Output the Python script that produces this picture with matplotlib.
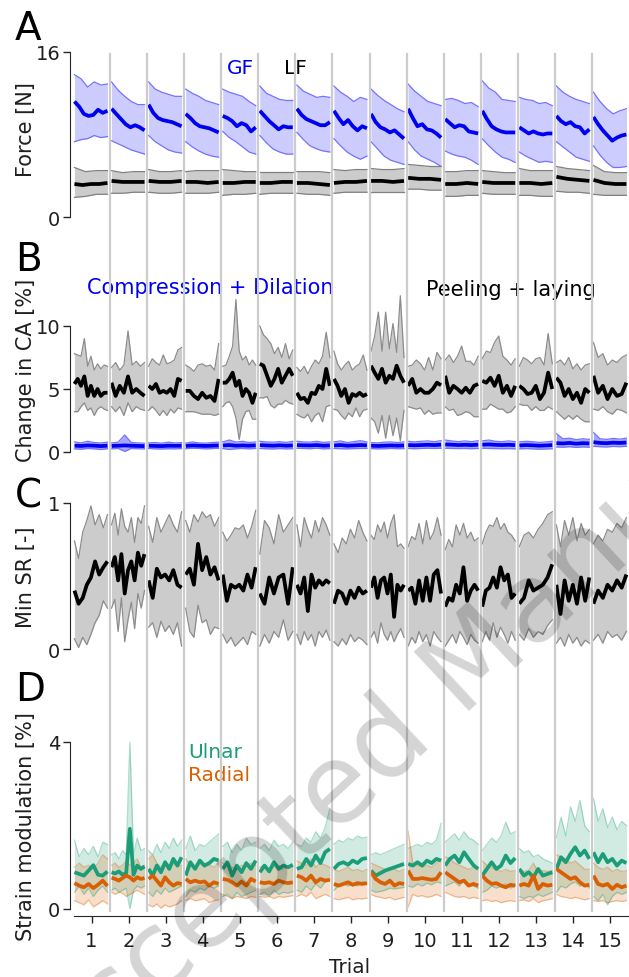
import numpy as np
import matplotlib
matplotlib.use("Agg")
import matplotlib.pyplot as plt
import matplotlib.transforms as mtransforms

# ---------------- data ----------------
trials = list(range(1, 16))
trial_labels = [str(t) for t in trials]

# Panel A: grip force (GF) and load force (LF) [N]
gf_mean = [
    [11.2, 10.7, 10.0, 9.8, 9.9, 10.4, 10.1, 10.3],
    [10.5, 10.0, 9.5, 9.0, 8.7, 8.9, 8.7, 8.4],
    [10.9, 10.1, 9.6, 9.4, 9.3, 9.2, 9.0, 8.8],
    [10.0, 9.6, 9.1, 8.8, 8.7, 8.6, 8.4, 8.2],
    [9.8, 9.6, 9.3, 8.8, 9.1, 8.9, 8.3, 8.7],
    [10.3, 9.8, 9.3, 8.9, 8.5, 8.8, 8.7, 8.7],
    [10.5, 9.9, 9.5, 9.3, 9.1, 8.9, 8.9, 9.2],
    [10.3, 9.6, 9.0, 9.4, 8.8, 8.4, 8.8, 8.6],
    [10.0, 9.2, 8.7, 8.5, 8.2, 8.4, 8.0, 7.6],
    [10.5, 9.6, 8.8, 9.0, 8.5, 8.4, 8.1, 7.7],
    [9.5, 9.1, 8.7, 8.9, 8.8, 8.3, 8.2, 8.1],
    [10.3, 9.5, 8.8, 8.5, 8.3, 8.2, 8.2, 8.2],
    [8.7, 8.4, 8.1, 8.3, 8.1, 8.0, 8.1, 8.1],
    [9.8, 9.3, 9.0, 9.2, 8.8, 8.7, 8.1, 8.5],
    [9.7, 9.0, 8.4, 7.9, 7.4, 7.7, 7.9, 8.0],
]
gf_hi = [
    [13.8, 13.4, 12.6, 13.1, 12.8, 12.9],
    [13.1, 12.3, 11.7, 11.2, 10.9, 10.9],
    [13.1, 12.4, 12.1, 11.9, 11.7, 11.7],
    [12.4, 12.0, 11.7, 11.3, 11.1, 10.9],
    [12.4, 12.1, 11.9, 11.7, 11.2, 10.8],
    [12.7, 12.0, 11.7, 11.4, 11.3, 11.3],
    [12.8, 12.2, 11.9, 11.6, 11.7, 11.6],
    [12.7, 12.1, 11.7, 11.2, 11.6, 11.4],
    [12.4, 11.8, 11.3, 10.9, 10.5, 10.2],
    [12.9, 12.2, 11.7, 11.2, 11.0, 10.8],
    [11.4, 11.5, 11.3, 11.0, 11.1, 10.7],
    [13.2, 12.5, 12.1, 11.4, 11.3, 11.2],
    [11.6, 11.4, 11.3, 11.0, 11.1, 10.8],
    [12.7, 12.1, 11.7, 11.4, 11.2, 11.0],
    [12.1, 11.2, 10.5, 10.0, 10.3, 10.5],
]
gf_lo = [
    [7.3, 7.5, 7.6, 7.9, 7.7, 7.8],
    [7.4, 7.1, 6.8, 6.5, 6.3, 6.1],
    [7.9, 7.3, 6.9, 6.5, 6.3, 6.2],
    [7.3, 6.8, 6.4, 6.1, 5.9, 5.8],
    [8.3, 7.7, 7.3, 6.8, 6.3, 6.1],
    [7.9, 7.2, 6.6, 6.3, 6.1, 6.1],
    [8.2, 7.5, 6.9, 6.6, 6.4, 6.3],
    [7.6, 6.9, 6.3, 5.9, 5.6, 5.9],
    [7.3, 6.6, 5.9, 5.5, 5.3, 5.1],
    [7.3, 6.5, 5.9, 5.6, 5.3, 4.9],
    [6.4, 6.1, 5.9, 5.8, 5.5, 5.1],
    [7.6, 6.9, 6.3, 5.8, 5.6, 5.3],
    [6.3, 5.9, 5.6, 5.3, 5.4, 5.3],
    [7.3, 6.8, 6.3, 5.8, 5.6, 5.4],
    [6.9, 6.0, 5.3, 4.8, 4.8, 4.9],
]
lf_mean = [
    [3.2, 3.1, 3.2, 3.2, 3.3], [3.5, 3.4, 3.4, 3.4], [3.5, 3.4, 3.4, 3.5],
    [3.4, 3.4, 3.3, 3.4], [3.3, 3.3, 3.4, 3.4], [3.3, 3.3, 3.4, 3.4],
    [3.3, 3.3, 3.2, 3.1], [3.3, 3.4, 3.4, 3.5], [3.5, 3.5, 3.4, 3.5],
    [3.8, 3.7, 3.7, 3.6], [3.2, 3.2, 3.3, 3.2], [3.4, 3.3, 3.3, 3.3],
    [3.3, 3.3, 3.2, 3.3], [3.9, 3.7, 3.6, 3.5], [3.6, 3.3, 3.2, 3.2],
]
lf_hi = [
    [4.8, 4.4, 4.5, 4.5], [4.5, 4.3, 4.4, 4.4], [4.6, 4.4, 4.4, 4.5],
    [4.4, 4.5, 4.5, 4.5], [4.6, 4.5, 4.4, 4.4], [4.4, 4.4, 4.4, 4.4],
    [4.4, 4.4, 4.4, 4.3], [4.6, 4.5, 4.6, 4.6], [4.7, 4.6, 4.6, 4.7],
    [5.1, 5.0, 4.9, 4.9], [4.4, 4.4, 4.5, 4.5], [4.5, 4.4, 4.3, 4.3],
    [4.7, 4.5, 4.5, 4.5], [4.9, 4.7, 4.6, 4.5], [5.0, 4.4, 4.3, 4.3],
]
lf_lo = [
    [1.9, 2.0, 2.2, 2.2], [2.3, 2.3, 2.4, 2.4], [2.4, 2.3, 2.3, 2.4],
    [2.3, 2.3, 2.3, 2.4], [2.1, 2.2, 2.2, 2.3], [2.2, 2.3, 2.3, 2.3],
    [2.3, 2.2, 2.2, 2.1], [2.3, 2.4, 2.4, 2.4], [2.4, 2.4, 2.4, 2.4],
    [2.7, 2.7, 2.6, 2.6], [2.0, 2.0, 2.1, 2.1], [2.3, 2.2, 2.2, 2.2],
    [2.1, 2.1, 2.0, 2.0], [2.5, 2.4, 2.4, 2.3], [2.2, 2.1, 2.1, 2.1],
]

# Panel B: change in contact area [%]
pl_mean = [
    [5.4, 5.8, 5.25, 6.0, 4.45, 5.25, 4.45, 5.0, 4.45, 4.7, 4.7],
    [5.5, 4.45, 5.25, 4.7, 6.0, 4.7, 5.0, 4.7, 4.45],
    [5.25, 5.0, 5.4, 4.7, 4.85, 4.7, 5.0, 4.45, 5.8, 5.65],
    [4.85, 4.85, 4.45, 4.2, 4.7, 4.3, 4.45, 4.05, 5.8],
    [5.5, 5.5, 5.8, 6.3, 5.25, 5.65, 4.45, 5.0, 4.7, 3.9, 4.7],
    [7.0, 6.85, 6.05, 5.25, 5.8, 6.6, 5.5, 6.05, 6.6, 6.05],
    [4.7, 4.2, 4.3, 3.9, 4.7, 4.6, 5.25, 5.0, 6.6, 5.25],
    [5.8, 5.25, 4.45, 5.0, 3.9, 4.6, 4.45, 4.7, 4.45, 4.6],
    [6.85, 6.3, 5.8, 6.6, 5.5, 6.05, 5.8, 6.85, 6.05, 5.5],
    [5.25, 5.8, 4.7, 5.0, 4.7, 4.7, 5.0, 5.5, 5.3],
    [6.05, 4.7, 5.25, 5.0, 4.7, 5.1, 4.7, 5.25, 5.4],
    [5.65, 5.5, 5.9, 5.25, 6.05, 4.7, 5.25, 4.45, 5.25],
    [5.25, 5.0, 4.6, 4.7, 5.25, 4.2, 4.7, 6.3, 5.0],
    [5.9, 5.5, 4.45, 5.0, 4.2, 4.7, 3.9, 5.0, 4.7],
    [6.05, 4.7, 5.25, 4.2, 5.0, 4.45, 4.6, 5.5],
]
pl_hi = [
    [7.8, 7.7, 7.6, 9.0, 6.8, 7.6, 6.5, 7.0, 6.6, 6.9, 6.8],
    [6.7, 7.1, 6.5, 6.9, 9.6, 6.9, 7.2, 6.8, 7.1],
    [6.8, 7.4, 7.1, 6.9, 7.7, 7.0, 7.1, 7.3, 8.1, 8.3],
    [6.9, 6.7, 6.4, 6.9, 7.0, 6.8, 6.9, 6.5, 8.6],
    [6.8, 6.9, 7.6, 8.4, 12.1, 8.0, 7.3, 7.6, 6.9, 7.3, 6.9],
    [10.0, 9.3, 9.0, 8.6, 7.8, 8.3, 7.5, 8.6, 7.4, 8.1],
    [6.7, 6.4, 6.8, 6.2, 6.8, 7.3, 7.0, 7.6, 9.5, 7.5],
    [8.0, 7.0, 6.5, 6.9, 7.2, 6.5, 6.8, 7.0, 7.7, 6.5],
    [8.0, 9.2, 11.1, 8.0, 11.1, 8.2, 10.2, 7.9, 12.4, 7.5],
    [6.8, 6.9, 7.3, 7.0, 6.5, 7.5, 6.5, 7.9, 7.4],
    [7.3, 7.7, 7.1, 7.6, 8.4, 7.2, 7.2, 6.9, 7.6],
    [7.4, 8.0, 7.9, 8.7, 9.2, 7.6, 7.3, 6.9, 7.4],
    [6.8, 7.5, 7.3, 7.0, 7.4, 7.5, 6.9, 9.4, 7.0],
    [7.1, 7.3, 6.9, 7.5, 6.6, 7.0, 6.5, 6.9, 7.0],
    [8.7, 7.5, 7.8, 6.9, 7.3, 7.1, 7.5, 7.7],
]
pl_lo = [
    [3.2, 3.2, 3.6, 3.9, 3.3, 3.5, 2.9, 3.4, 3.6, 3.4, 3.3],
    [3.6, 3.2, 3.6, 2.9, 3.9, 3.2, 3.6, 3.4, 3.3],
    [3.3, 3.6, 3.3, 2.9, 3.3, 2.9, 3.4, 3.1, 3.5, 3.4],
    [3.2, 3.2, 3.2, 3.1, 3.0, 3.0, 3.0, 2.9, 3.0],
    [3.6, 3.9, 4.0, 3.6, 2.7, 1.0, 2.6, 3.2, 3.3, 2.6, 2.6],
    [4.3, 4.3, 4.4, 3.7, 3.5, 3.8, 3.8, 4.1, 3.9, 3.8],
    [3.0, 2.8, 2.7, 3.0, 2.4, 2.9, 3.1, 2.4, 3.6, 3.7],
    [3.4, 3.3, 2.9, 2.6, 3.1, 2.8, 3.5, 2.8, 3.3, 3.4],
    [2.7, 2.4, 1.5, 2.9, 1.1, 2.9, 1.3, 2.7, 0.9, 3.3],
    [3.6, 3.5, 3.4, 3.5, 3.0, 3.3, 3.0, 3.1, 3.1],
    [3.6, 3.3, 3.4, 2.9, 3.0, 3.2, 3.1, 2.8, 2.8],
    [3.4, 3.4, 3.8, 3.6, 3.4, 3.4, 3.1, 3.2, 3.6],
    [3.8, 3.7, 3.7, 3.3, 3.6, 3.3, 3.3, 3.6, 3.4],
    [3.2, 2.9, 2.6, 2.9, 2.6, 2.9, 2.6, 2.4, 2.4],
    [3.4, 3.3, 3.6, 3.2, 3.0, 3.4, 3.3, 3.1],
]
cd_mean = [
    [0.50, 0.48, 0.52, 0.50, 0.47, 0.50], [0.48, 0.50, 0.52, 0.50, 0.48, 0.47],
    [0.50, 0.48, 0.47, 0.50, 0.49, 0.50], [0.48, 0.52, 0.50, 0.48, 0.50, 0.52],
    [0.52, 0.55, 0.50, 0.52, 0.50, 0.53], [0.55, 0.52, 0.50, 0.53, 0.50, 0.52],
    [0.55, 0.53, 0.52, 0.55, 0.50, 0.52], [0.52, 0.55, 0.50, 0.52, 0.55, 0.53],
    [0.50, 0.48, 0.50, 0.52, 0.50, 0.52], [0.55, 0.53, 0.55, 0.57, 0.55, 0.58],
    [0.60, 0.58, 0.55, 0.57, 0.55, 0.58], [0.58, 0.60, 0.57, 0.55, 0.57, 0.55],
    [0.52, 0.55, 0.53, 0.50, 0.52, 0.55], [0.70, 0.68, 0.72, 0.66, 0.70, 0.68],
    [0.78, 0.72, 0.70, 0.74, 0.72, 0.75],
]
cd_hi = [
    [0.80, 0.72, 0.85, 0.75, 0.72, 0.78], [0.72, 0.78, 1.35, 0.75, 0.72, 0.70],
    [0.72, 0.75, 0.70, 0.78, 0.72, 0.75], [0.70, 0.80, 0.72, 0.70, 0.75, 0.78],
    [0.80, 0.95, 0.78, 0.85, 0.75, 0.80], [0.85, 0.80, 0.78, 0.82, 0.76, 0.85],
    [0.85, 0.80, 0.78, 0.85, 0.76, 0.80], [0.80, 0.88, 0.75, 0.82, 0.90, 0.80],
    [0.75, 0.72, 0.78, 0.80, 0.75, 0.80], [0.85, 0.80, 0.85, 0.88, 0.82, 0.90],
    [0.95, 0.88, 0.82, 0.88, 0.82, 0.90], [0.88, 0.95, 0.85, 0.82, 0.88, 0.82],
    [0.80, 0.85, 0.82, 0.76, 0.80, 0.85], [1.45, 1.05, 1.10, 0.98, 1.05, 1.00],
    [1.55, 1.05, 1.00, 1.08, 1.02, 1.10],
]
cd_lo = [
    [0.25, 0.22, 0.28, 0.25, 0.20, 0.26], [0.25, 0.28, 0.05, 0.28, 0.26, 0.25],
    [0.28, 0.25, 0.24, 0.26, 0.25, 0.27], [0.26, 0.30, 0.28, 0.25, 0.27, 0.30],
    [0.28, 0.20, 0.26, 0.28, 0.25, 0.28], [0.28, 0.26, 0.24, 0.27, 0.25, 0.26],
    [0.30, 0.28, 0.26, 0.30, 0.25, 0.27], [0.28, 0.26, 0.25, 0.27, 0.28, 0.28],
    [0.27, 0.25, 0.26, 0.28, 0.26, 0.27], [0.28, 0.26, 0.28, 0.30, 0.28, 0.30],
    [0.30, 0.28, 0.27, 0.28, 0.26, 0.28], [0.30, 0.28, 0.27, 0.26, 0.27, 0.25],
    [0.25, 0.27, 0.25, 0.22, 0.24, 0.26], [0.40, 0.38, 0.42, 0.36, 0.40, 0.38],
    [0.45, 0.42, 0.40, 0.44, 0.42, 0.45],
]

# Panel C: minimum slip ratio [-]
sr_mean = [
    [0.40, 0.31, 0.35, 0.44, 0.49, 0.60, 0.51, 0.56, 0.60],
    [0.56, 0.63, 0.47, 0.65, 0.38, 0.54, 0.60, 0.47, 0.66, 0.57, 0.65],
    [0.47, 0.35, 0.55, 0.49, 0.51, 0.47, 0.54, 0.44, 0.42],
    [0.51, 0.55, 0.44, 0.72, 0.54, 0.63, 0.51, 0.56, 0.47],
    [0.51, 0.33, 0.44, 0.42, 0.44, 0.40, 0.51, 0.42, 0.56],
    [0.38, 0.31, 0.49, 0.38, 0.49, 0.51, 0.31, 0.56],
    [0.44, 0.38, 0.49, 0.26, 0.51, 0.42, 0.47, 0.44, 0.47, 0.45],
    [0.31, 0.40, 0.38, 0.31, 0.40, 0.35, 0.42, 0.38, 0.40],
    [0.42, 0.49, 0.35, 0.47, 0.49, 0.38, 0.51, 0.22, 0.44, 0.40, 0.44],
    [0.40, 0.42, 0.31, 0.47, 0.33, 0.49, 0.33, 0.51, 0.54, 0.38],
    [0.29, 0.35, 0.33, 0.44, 0.38, 0.56, 0.33, 0.40, 0.44, 0.40],
    [0.29, 0.40, 0.42, 0.49, 0.42, 0.56, 0.47, 0.51, 0.35, 0.38],
    [0.31, 0.35, 0.47, 0.40, 0.42, 0.44, 0.49, 0.58],
    [0.44, 0.24, 0.47, 0.33, 0.44, 0.31, 0.49, 0.33, 0.49],
    [0.31, 0.40, 0.35, 0.44, 0.40, 0.47, 0.42, 0.51],
]
sr_hi = [
    [0.74, 0.62, 0.80, 0.88, 0.98, 0.85, 0.92, 0.83, 0.92],
    [0.85, 0.93, 0.78, 0.96, 0.84, 0.80, 0.90, 0.73, 0.90, 0.86, 0.98],
    [0.84, 0.73, 0.90, 0.80, 0.86, 0.92, 0.85, 0.80, 0.94],
    [0.88, 0.80, 0.92, 0.87, 0.94, 0.90, 0.92, 0.84, 0.90],
    [0.80, 0.74, 0.78, 0.83, 0.82, 0.85, 0.76, 0.84, 0.95],
    [0.65, 0.88, 0.83, 0.72, 0.92, 0.80, 0.85, 0.90],
    [0.85, 0.70, 0.90, 0.82, 0.76, 0.88, 0.80, 0.90, 0.85, 0.78],
    [0.72, 0.66, 0.76, 0.72, 0.82, 0.76, 0.88, 0.80, 0.74],
    [0.78, 0.75, 0.85, 0.80, 0.87, 0.76, 0.86, 0.92, 0.70, 0.72, 0.69],
    [0.70, 0.77, 0.75, 0.86, 0.72, 0.88, 0.75, 0.80, 0.90, 0.78],
    [0.68, 0.75, 0.70, 0.85, 0.78, 0.86, 0.76, 0.80, 0.74, 0.76],
    [0.72, 0.80, 0.85, 0.84, 0.90, 0.82, 0.86, 0.80, 0.78, 0.74],
    [0.70, 0.78, 0.80, 0.76, 0.82, 0.86, 0.92, 0.94],
    [0.85, 0.70, 0.88, 0.78, 0.90, 0.74, 0.86, 0.78, 0.82],
    [0.72, 0.78, 0.74, 0.82, 0.80, 0.86, 0.83, 0.90],
]
sr_lo = [
    [0.07, 0.01, 0.08, 0.03, 0.10, 0.18, 0.23, 0.33, 0.28],
    [0.28, 0.34, 0.12, 0.35, 0.05, 0.20, 0.32, 0.14, 0.38, 0.28, 0.40],
    [0.15, 0.18, 0.08, 0.19, 0.12, 0.16, 0.10, 0.18, 0.02],
    [0.28, 0.12, 0.08, 0.30, 0.18, 0.20, 0.10, 0.15, 0.14],
    [0.10, 0.04, 0.08, 0.02, 0.05, 0.08, 0.03, 0.12, 0.10],
    [0.02, 0.10, 0.04, 0.12, 0.08, 0.20, 0.06, 0.12],
    [0.10, 0.03, 0.12, 0.06, 0.10, 0.02, 0.12, 0.08, 0.13, 0.06],
    [0.05, 0.02, 0.07, 0.03, 0.10, 0.05, 0.08, 0.06, 0.03],
    [0.08, 0.12, 0.04, 0.18, 0.10, 0.06, 0.12, 0.05, 0.10, 0.14, 0.08],
    [0.02, 0.08, 0.04, 0.12, 0.05, 0.10, 0.02, 0.12, 0.08, 0.05],
    [0.02, 0.06, 0.10, 0.04, 0.12, 0.08, 0.03, 0.10, 0.06, 0.04],
    [0.05, 0.12, 0.06, 0.18, 0.08, 0.15, 0.10, 0.04, 0.12, 0.06],
    [0.10, 0.06, 0.14, 0.08, 0.12, 0.10, 0.16, 0.20],
    [0.04, 0.08, 0.02, 0.10, 0.04, 0.08, 0.02, 0.06, 0.04],
    [0.06, 0.10, 0.04, 0.12, 0.08, 0.10, 0.06, 0.12],
]

# Panel D: strain modulation [%]
ul_mean = [
    [0.88, 0.84, 0.80, 0.92, 1.05, 0.82, 0.80, 0.90],
    [0.88, 0.85, 0.90, 0.82, 0.86, 1.92, 0.82, 1.04, 0.96, 1.02],
    [0.96, 0.80, 1.04, 0.88, 1.12, 0.96, 1.20, 1.04, 1.24],
    [0.80, 1.12, 0.96, 1.16, 1.04, 1.10, 1.20, 1.16],
    [0.96, 1.12, 0.80, 1.04, 0.88, 1.10, 0.96, 1.16],
    [0.88, 1.04, 0.90, 1.12, 0.96, 1.04, 1.00, 1.06],
    [0.96, 1.00, 1.20, 1.04, 1.28, 1.10, 1.36, 1.44],
    [0.96, 1.08, 1.12, 1.06, 1.16, 1.10, 1.20, 1.22],
    [0.92, 0.80, 0.86, 0.92, 0.96, 1.00, 1.04, 1.08],
    [1.08, 1.04, 1.12, 1.04, 1.16, 1.10, 1.20, 1.16],
    [1.04, 1.20, 1.28, 1.12, 1.36, 1.20, 1.05, 0.96],
    [0.80, 0.96, 1.12, 0.96, 1.04, 1.28, 1.10, 1.22],
    [0.96, 0.80, 0.88, 0.76, 0.96, 0.80, 0.84, 0.88],
    [0.96, 1.24, 1.12, 1.32, 1.48, 1.28, 1.40, 1.20],
    [1.36, 1.12, 1.32, 1.12, 1.20, 1.04, 1.16, 1.10],
]
ul_hi = [
    [1.65, 1.25, 1.45, 1.30, 1.50, 1.25, 1.60, 1.55],
    [1.30, 1.35, 1.20, 1.40, 1.30, 4.00, 1.30, 1.70, 1.40, 1.45],
    [1.40, 1.30, 1.55, 1.35, 1.60, 1.45, 1.70, 1.50, 1.65],
    [1.45, 1.75, 1.40, 1.55, 1.50, 1.60, 1.70, 1.80],
    [1.50, 1.60, 1.35, 1.55, 1.40, 1.70, 1.55, 1.60],
    [1.45, 1.55, 1.40, 1.65, 1.50, 1.55, 1.45, 1.60],
    [1.55, 1.50, 1.70, 1.60, 1.85, 1.70, 1.95, 2.40],
    [1.55, 1.65, 1.60, 1.70, 1.65, 1.75, 1.70, 1.72],
    [1.30, 1.35, 1.30, 1.35, 1.40, 1.45, 1.50, 1.55],
    [1.45, 1.50, 1.55, 1.50, 1.60, 1.55, 1.65, 2.05],
    [1.60, 1.70, 1.80, 1.65, 1.85, 1.70, 1.65, 1.55],
    [1.40, 1.55, 1.70, 1.60, 1.75, 2.08, 1.80, 1.85],
    [1.45, 1.35, 1.40, 1.25, 1.30, 1.20, 1.15, 1.10],
    [1.70, 2.20, 1.75, 2.45, 2.10, 2.60, 2.00, 1.85],
    [2.65, 2.10, 2.40, 1.95, 2.20, 1.90, 2.10, 2.00],
]
ul_lo = [
    [0.40, 0.55, 0.35, 0.50, 0.30, 0.45, 0.55, 0.40],
    [0.45, 0.50, 0.40, 0.45, 0.50, 0.00, 0.45, 0.55, 0.50, 0.55],
    [0.40, 0.30, 0.45, 0.35, 0.50, 0.40, 0.45, 0.50, 0.55],
    [0.30, 0.45, 0.40, 0.50, 0.45, 0.55, 0.50, 0.55],
    [0.30, 0.35, 0.25, 0.40, 0.30, 0.35, 0.40, 0.45],
    [0.35, 0.40, 0.30, 0.45, 0.35, 0.40, 0.38, 0.42],
    [0.45, 0.40, 0.55, 0.45, 0.60, 0.50, 0.65, 0.70],
    [0.45, 0.55, 0.60, 0.55, 0.60, 0.55, 0.65, 0.62],
    [0.45, 0.40, 0.42, 0.45, 0.50, 0.48, 0.50, 0.52],
    [0.55, 0.52, 0.60, 0.55, 0.62, 0.58, 0.65, 0.62],
    [0.55, 0.60, 0.65, 0.55, 0.70, 0.60, 0.55, 0.50],
    [0.40, 0.45, 0.55, 0.50, 0.55, 0.60, 0.50, 0.55],
    [0.30, 0.25, 0.30, 0.28, 0.35, 0.30, 0.35, 0.40],
    [0.40, 0.55, 0.50, 0.60, 0.65, 0.55, 0.60, 0.50],
    [0.30, 0.20, 0.35, 0.10, 0.30, 0.40, 0.35, 0.40],
]
ra_mean = [
    [0.62, 0.56, 0.52, 0.60, 0.50, 0.58, 0.68, 0.55],
    [0.75, 0.72, 0.68, 0.74, 0.80, 0.76, 0.68, 0.76, 0.72, 0.74],
    [0.72, 0.80, 0.68, 0.56, 0.76, 0.64, 0.56, 0.62, 0.60],
    [0.72, 0.64, 0.68, 0.64, 0.66, 0.56, 0.64, 0.60],
    [0.72, 0.70, 0.64, 0.56, 0.66, 0.56, 0.72, 0.66],
    [0.64, 0.62, 0.64, 0.60, 0.68, 0.64, 0.62, 0.64],
    [0.80, 0.76, 0.68, 0.80, 0.64, 0.72, 0.68, 0.70],
    [0.60, 0.56, 0.60, 0.64, 0.58, 0.62, 0.60, 0.62],
    [0.88, 0.72, 0.64, 0.60, 0.68, 0.56, 0.62, 0.60],
    [0.92, 0.72, 0.72, 0.74, 0.72, 0.70, 0.72, 0.88],
    [0.88, 0.80, 0.72, 0.64, 0.68, 0.56, 0.60, 0.56],
    [0.80, 0.68, 0.60, 0.62, 0.56, 0.52, 0.58, 0.56],
    [0.56, 0.60, 0.56, 0.80, 0.48, 0.60, 0.56, 0.58],
    [0.96, 0.88, 0.80, 0.72, 0.76, 0.64, 0.56, 0.58],
    [0.80, 0.60, 0.56, 0.60, 0.48, 0.58, 0.52, 0.56],
]
ra_hi = [
    [1.00, 1.10, 1.00, 1.05, 0.95, 1.10, 1.30, 1.20],
    [1.05, 1.10, 1.00, 1.05, 1.15, 1.05, 1.10, 1.20, 1.00, 1.05],
    [1.20, 1.30, 1.10, 1.00, 1.15, 1.05, 1.10, 1.00, 1.05],
    [1.20, 1.05, 1.00, 1.10, 1.00, 1.05, 1.00, 1.10],
    [1.10, 1.05, 1.00, 0.95, 1.05, 1.00, 1.10, 1.05],
    [1.00, 1.05, 0.95, 1.00, 1.05, 0.95, 1.00, 1.00],
    [1.15, 1.10, 1.05, 1.20, 1.00, 1.10, 1.05, 1.00],
    [0.95, 0.90, 0.95, 1.00, 0.92, 0.95, 0.90, 0.95],
    [1.10, 1.05, 1.00, 0.95, 1.00, 0.95, 0.90, 0.95],
    [1.87, 1.10, 1.05, 1.00, 1.05, 1.00, 1.10, 1.20],
    [1.25, 1.20, 1.10, 1.05, 1.00, 0.95, 1.00, 0.95],
    [1.15, 1.05, 1.00, 0.95, 0.90, 0.95, 0.90, 0.92],
    [0.95, 0.90, 0.92, 1.10, 0.88, 0.92, 0.90, 0.92],
    [1.30, 1.25, 1.20, 1.10, 1.15, 1.05, 0.95, 0.95],
    [1.10, 1.00, 0.95, 1.00, 0.90, 0.95, 0.90, 0.92],
]
ra_lo = [
    [0.20, 0.15, 0.10, 0.22, 0.05, 0.12, 0.20, 0.12],
    [0.40, 0.35, 0.40, 0.38, 0.30, 0.35, 0.40, 0.45, 0.40, 0.35],
    [0.10, 0.05, 0.12, 0.02, 0.10, 0.05, 0.08, 0.12, 0.20],
    [0.20, 0.25, 0.20, 0.22, 0.25, 0.15, 0.20, 0.22],
    [0.35, 0.30, 0.25, 0.30, 0.28, 0.25, 0.30, 0.28],
    [0.30, 0.28, 0.30, 0.25, 0.30, 0.28, 0.30, 0.32],
    [0.30, 0.35, 0.30, 0.40, 0.25, 0.30, 0.35, 0.30],
    [0.25, 0.22, 0.25, 0.28, 0.22, 0.25, 0.24, 0.26],
    [0.35, 0.30, 0.28, 0.25, 0.28, 0.22, 0.25, 0.28],
    [0.05, 0.35, 0.30, 0.32, 0.28, 0.30, 0.35, 0.30],
    [0.40, 0.35, 0.30, 0.28, 0.30, 0.25, 0.28, 0.25],
    [0.20, 0.22, 0.18, 0.20, 0.15, 0.18, 0.20, 0.18],
    [0.20, 0.22, 0.18, 0.25, 0.15, 0.20, 0.22, 0.25],
    [0.35, 0.30, 0.28, 0.25, 0.28, 0.25, 0.22, 0.25],
    [0.20, 0.18, 0.20, 0.15, 0.18, 0.20, 0.18, 0.20],
]

# ---------------- figure ----------------
W, H = 629, 978
plt.rcParams["font.family"] = ["DejaVu Sans"]
fig = plt.figure(figsize=(W / 100, H / 100), dpi=100)
TXT = "0.12"


def add_ax(top_px, bottom_px):
    ax = fig.add_axes([70 / W, 1 - bottom_px / H, (W - 70) / W, (bottom_px - top_px) / H])
    ax.patch.set_alpha(0)
    return ax


def seg_x(k, n):
    return np.linspace(k - 0.46, k + 0.43, n)


def draw_band(ax, lo, hi, face, edge, alpha=1.0, ealpha=1.0):
    for k, (l, h) in zip(trials, zip(lo, hi)):
        x = seg_x(k, len(l))
        ax.fill_between(x, l, h, color=face, alpha=alpha, lw=0)
        ax.plot(x, l, color=edge, lw=0.9, alpha=ealpha)
        ax.plot(x, h, color=edge, lw=0.9, alpha=ealpha)


def draw_mean(ax, vals, color, lw=2.7):
    for k, v in zip(trials, vals):
        ax.plot(seg_x(k, len(v)), v, color=color, lw=lw, solid_capstyle="butt")


axA = add_ax(53, 218)
axB = add_ax(276.6, 453)
axC = add_ax(504, 650)
axD = add_ax(743, 910)

BLUE = "#0000f0"
GREEN = "#1b9e77"
ORANGE = "#d95f02"

draw_band(axA, gf_lo, gf_hi, (0.8, 0.8, 1.0), (0.45, 0.45, 1.0))
draw_mean(axA, gf_mean, BLUE)
draw_band(axA, lf_lo, lf_hi, "0.8", "0.5")
draw_mean(axA, lf_mean, "black")

draw_band(axB, pl_lo, pl_hi, "0.8", "0.55")
draw_mean(axB, pl_mean, "black")
draw_band(axB, cd_lo, cd_hi, (0.65, 0.65, 1.0), (0.45, 0.45, 1.0))
draw_mean(axB, cd_mean, BLUE)

draw_band(axC, sr_lo, sr_hi, "0.8", "0.55")
draw_mean(axC, sr_mean, "black")

draw_band(axD, ul_lo, ul_hi, GREEN, GREEN, alpha=0.2, ealpha=0.35)
draw_band(axD, ra_lo, ra_hi, ORANGE, ORANGE, alpha=0.2, ealpha=0.35)
draw_mean(axD, ul_mean, GREEN)
draw_mean(axD, ra_mean, ORANGE)

specs = [
    (axA, (0, 16), [0, 16], "Force [N]", 0.533),
    (axB, (0, 14), [0, 5, 10], "Change in CA [%]", 0.47),
    (axC, (0, 1), [0, 1], "Min SR [-]", 0.5),
    (axD, (0, 4), [0, 4], "Strain modulation [%]", 0.497),
]
for ax, ylim, yt, lab, ly in specs:
    ax.set_xlim(0.42, 15.5)
    ax.set_ylim(*ylim)
    ax.set_yticks(yt)
    ax.set_yticklabels([str(t) for t in yt])
    ax.spines["left"].set_bounds(yt[0], yt[-1])
    for s in ["top", "right"]:
        ax.spines[s].set_visible(False)
    ax.spines["left"].set_color("0.15")
    ax.tick_params(axis="y", labelsize=14, length=5, width=1, colors="0.15",
                   labelcolor=TXT, pad=2)
    ax.set_ylabel(lab, fontsize=15, color=TXT)
    ax.yaxis.set_label_coords(-0.060, ly)
    if ax is not axD:
        ax.spines["bottom"].set_visible(False)
        ax.set_xticks([])

axD.set_xticks(trials)
axD.set_xticklabels(trial_labels)
axD.spines["bottom"].set_position(("outward", 5))
axD.spines["bottom"].set_bounds(0.53, 15.5)
axD.spines["bottom"].set_color("0.15")
axD.tick_params(axis="x", labelsize=14, length=5, width=1, colors="0.15",
                labelcolor=TXT, pad=6)
axD.set_xlabel("Trial", fontsize=14.5, color=TXT, labelpad=5)

# annotations
axA.text(5.03, 14.5, "GF", color=BLUE, fontsize=14.5, ha="center", va="center")
axA.text(6.49, 14.5, "LF", color="black", fontsize=14.5, ha="center", va="center")
axB.text(0.88, 13.1, "Compression + Dilation", color=BLUE, fontsize=15, ha="left", va="center")
axB.text(10.02, 12.9, "Peeling + laying", color="black", fontsize=15, ha="left", va="center")
axD.text(3.6, 3.78, "Ulnar", color=GREEN, fontsize=14.5, ha="left", va="center")
axD.text(3.6, 3.21, "Radial", color=ORANGE, fontsize=14.5, ha="left", va="center")

# trial separators spanning all panels
trans = mtransforms.blended_transform_factory(axD.transData, fig.transFigure)
for b in trials[:-1]:
    fig.add_artist(plt.Line2D([b + 0.5, b + 0.5], [1 - 55 / H, 1 - 912 / H],
                              transform=trans, color="0.8", lw=1.6, zorder=5))

# panel letters
for letter, ytop in [("A", 10), ("B", 241), ("C", 478), ("D", 671)]:
    fig.text(15 / W, 1 - ytop / H, letter, fontsize=28, va="top", ha="left", color="black")

# watermark
fig.text(463 / W, 1 - 675 / H, "Accepted Manuscript", fontsize=80, rotation=43,
         color="black", alpha=0.17, ha="center", va="center", rotation_mode="anchor",
         zorder=20)

fig.savefig("out.png", dpi=100)
